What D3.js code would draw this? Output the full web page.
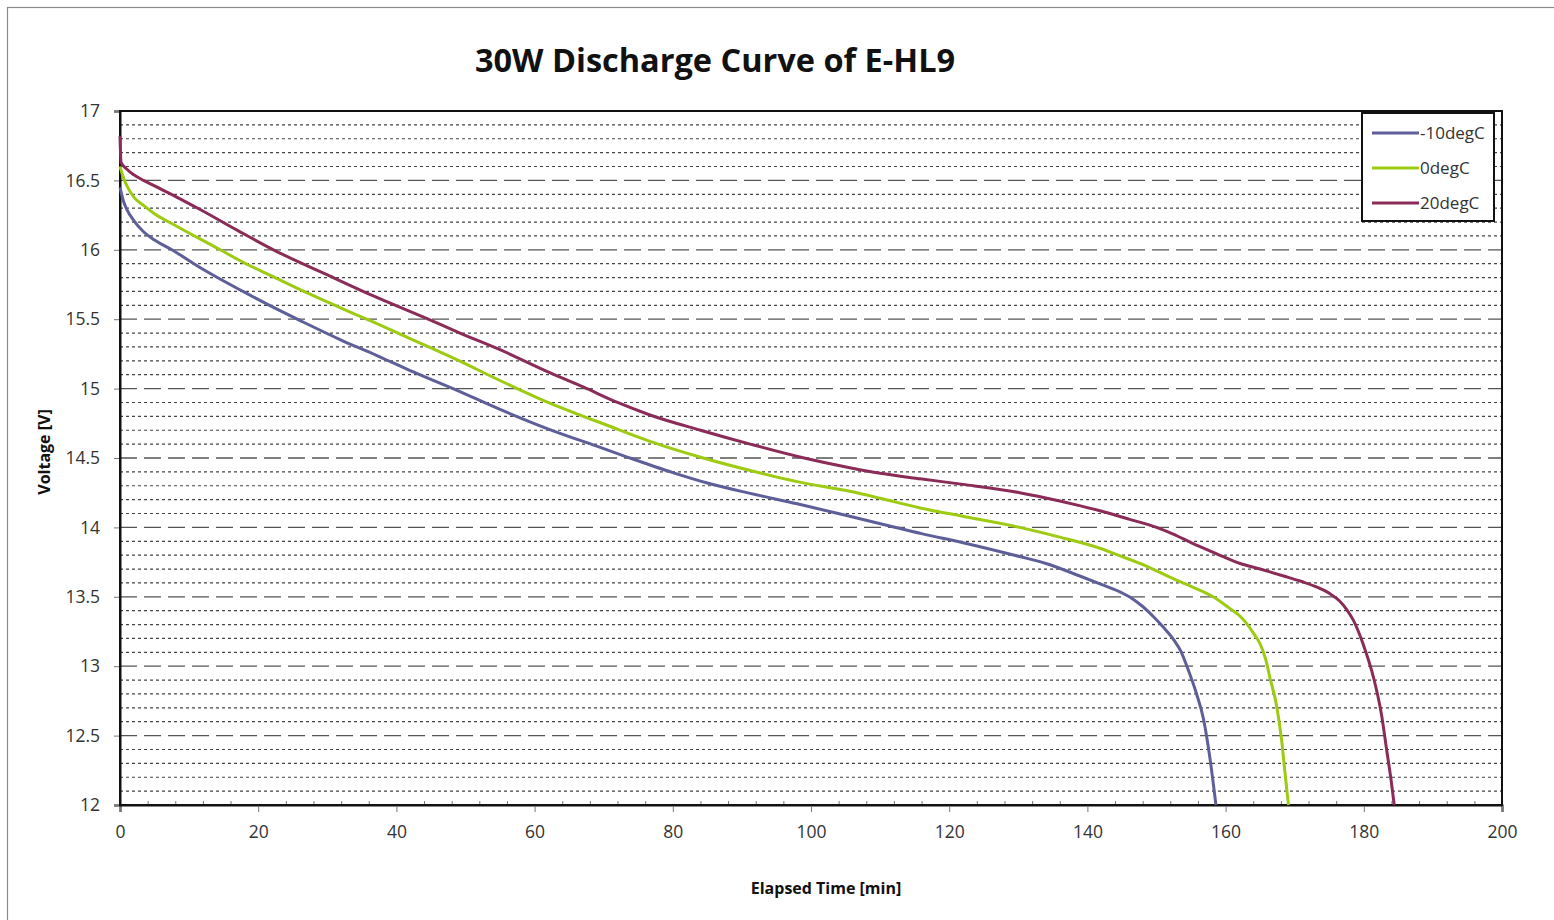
<!DOCTYPE html>
<html>
<head>
<meta charset="utf-8">
<script src="https://cdn.jsdelivr.net/npm/d3@7"></script>
<style>
  body { margin: 0; background: #fff; }
  svg text { font-family: "Open Sans", "DejaVu Sans", sans-serif; }
</style>
</head>
<body>
<svg width="1554" height="920"></svg>
<script>
const width = 1554
const height = 920

// series: [minutes, volts]
const seriesNames = ['-10degC', '0degC', '20degC']
const seriesColors = ['#5e5f99', '#9dcb12', '#8b2b58']

const minus10 = [
  [0, 16.45], [0.5, 16.35], [1, 16.29], [2, 16.21], [3.4, 16.13], [5, 16.07], [7.5, 16.0],
  [12, 15.86], [17.8, 15.70], [22, 15.59], [26.5, 15.48], [32, 15.35], [37.1, 15.24],
  [42, 15.13], [48.2, 15.0], [55, 14.85], [62.2, 14.705], [69, 14.585], [73.5, 14.505],
  [80, 14.395], [85, 14.32], [91.2, 14.245], [98, 14.17], [105.6, 14.08], [111.4, 14.01],
  [116, 13.955], [122, 13.89], [130.2, 13.79], [134, 13.74], [138.9, 13.65], [142, 13.59],
  [144.5, 13.54], [146.4, 13.49], [148, 13.43], [149.5, 13.36], [151, 13.28], [152.5, 13.19],
  [153.5, 13.11], [154.4, 13.0], [155.2, 12.89], [155.8, 12.80], [156.8, 12.62], [157.7, 12.35],
  [158.6, 12.0]
]

const zero = [
  [0, 16.6], [0.5, 16.52], [1, 16.46], [2, 16.38], [3.4, 16.32], [5, 16.26], [8.2, 16.17],
  [14.5, 16.0], [17.8, 15.91], [22, 15.81], [27.5, 15.68], [32, 15.58], [36.2, 15.49],
  [42, 15.36], [47.8, 15.23], [56.2, 15.03], [62.2, 14.895], [66, 14.82], [70, 14.745],
  [76.7, 14.62], [84.4, 14.5], [91.2, 14.41], [98, 14.33], [105.6, 14.26], [110, 14.21],
  [115.8, 14.14], [122, 14.08], [130.2, 14.0], [136, 13.93], [141.8, 13.85], [145, 13.79],
  [148.6, 13.72], [152, 13.64], [155, 13.575], [158.2, 13.50], [160.5, 13.42], [162.1, 13.36],
  [163, 13.31], [164, 13.24], [165, 13.16], [165.8, 13.05], [166.4, 12.92], [167.4, 12.71],
  [168.1, 12.47], [168.6, 12.23], [169.1, 12.0]
]

const twenty = [
  [0, 16.82], [0.15, 16.63], [1, 16.58], [2, 16.54], [3.4, 16.50], [5, 16.46], [8.2, 16.38],
  [11.6, 16.29], [17, 16.14], [22.2, 16.0], [30.4, 15.81], [37, 15.66], [44.6, 15.5],
  [49.2, 15.40], [55, 15.28], [62.2, 15.115], [67.1, 15.01], [72, 14.9], [76.7, 14.81],
  [84, 14.70], [91.2, 14.60], [99, 14.5], [105.6, 14.43], [110, 14.39], [115.8, 14.35],
  [122, 14.31], [130.2, 14.25], [136, 14.19], [139, 14.155], [141.8, 14.12], [146, 14.06],
  [150, 14.0], [152.5, 13.95], [155, 13.89], [158.7, 13.81], [162.1, 13.74], [165, 13.70],
  [168.4, 13.65], [171, 13.61], [173.2, 13.57], [175, 13.525], [176.5, 13.47], [177.5, 13.41],
  [178.5, 13.33], [179.9, 13.16], [181.4, 12.92], [182.6, 12.64], [183.3, 12.40], [184, 12.16],
  [184.4, 12.0]
]

const allSeries = [minus10, zero, twenty]

const xTicks = [0, 20, 40, 60, 80, 100, 120, 140, 160, 180, 200]
const yTicks = [12, 12.5, 13, 13.5, 14, 14.5, 15, 15.5, 16, 16.5, 17]

const margin = { left: 120, right: 52, top: 111, bottom: 115 }

const svg = d3.select('svg')

// outer chart frame
svg.append('rect')
  .attr('x', 7.5).attr('y', 7.5)
  .attr('width', width + 20).attr('height', height + 20)
  .attr('fill', 'none').attr('stroke', '#8a8a8a').attr('stroke-width', 1.2)

const x = d3.scaleLinear().domain([0, 200]).range([margin.left, width - margin.right])
const y = d3.scaleLinear().domain([12, 17]).range([height - margin.bottom, margin.top])

// minor grid, every 0.1 V
const minor = d3.range(121, 170).map(d => d / 10).filter(d => Math.round(d * 10) % 5 !== 0)
svg.append('g').selectAll('line')
  .data(minor)
  .enter().append('line')
  .attr('x1', x(0)).attr('x2', x(200))
  .attr('y1', d => y(d)).attr('y2', d => y(d))
  .attr('stroke', '#444').attr('stroke-width', 1.2)
  .attr('stroke-dasharray', '3,3')

// major grid, dashed
svg.append('g').selectAll('line')
  .data(yTicks.slice(1, -1))
  .enter().append('line')
  .attr('x1', x(0)).attr('x2', x(200))
  .attr('y1', d => y(d)).attr('y2', d => y(d))
  .attr('stroke', '#555').attr('stroke-width', 1.3)
  .attr('stroke-dasharray', '17,7')

// axes
const xAxis = svg.append('g')
  .attr('transform', `translate(0,${y(12)})`)
  .call(d3.axisBottom(x).tickValues(xTicks).tickSize(7).tickPadding(14))
const xMinor = svg.append('g')
  .attr('transform', `translate(0,${y(12)})`)
  .call(d3.axisTop(x).tickValues(d3.range(4, 200, 4).filter(d => d % 20 !== 0)).tickSize(4).tickFormat(''))
xMinor.select('.domain').remove()

const yAxis = svg.append('g')
  .attr('transform', `translate(${x(0)},0)`)
  .call(d3.axisLeft(y).tickValues(yTicks).tickSize(6).tickPadding(14).tickFormat(d3.format('')))

svg.selectAll('.tick line').attr('stroke', '#777')
svg.selectAll('.tick text')
  .attr('font-size', 17.5).attr('fill', '#333')
  .style('font-family', '"Open Sans", sans-serif')

// plot border
svg.append('rect')
  .attr('x', x(0)).attr('y', y(17))
  .attr('width', x(200) - x(0)).attr('height', y(12) - y(17))
  .attr('fill', 'none').attr('stroke', '#111').attr('stroke-width', 2)
svg.selectAll('.domain').attr('stroke', '#111').attr('stroke-width', 2)

// curves
let line = d3.line()
  .x(d => x(d[0]))
  .y(d => y(d[1]))
  .curve(d3.curveMonotoneX)

svg.append('g').selectAll('path')
  .data(allSeries)
  .enter().append('path')
  .attr('d', line)
  .attr('fill', 'none')
  .attr('stroke', (d, i) => seriesColors[i])
  .attr('stroke-width', 3)

// title and axis labels
svg.append('text')
  .attr('x', 715).attr('y', 72)
  .attr('text-anchor', 'middle')
  .attr('font-size', 32.5).attr('font-weight', 'bold').attr('fill', '#111')
  .text('30W Discharge Curve of E-HL9')

svg.append('text')
  .attr('x', 826).attr('y', 894)
  .attr('text-anchor', 'middle')
  .attr('font-size', 16).attr('font-weight', 'bold').attr('fill', '#111')
  .text('Elapsed Time [min]')

svg.append('text')
  .attr('transform', 'translate(50,452) rotate(-90)')
  .attr('text-anchor', 'middle')
  .attr('font-size', 16).attr('font-weight', 'bold').attr('fill', '#111')
  .text('Voltage [V]')

// legend
const legend = svg.append('g').attr('transform', 'translate(1362,113)')
legend.append('rect')
  .attr('width', 132).attr('height', 108)
  .attr('fill', '#fff').attr('stroke', '#111').attr('stroke-width', 2)

seriesNames.forEach(function(name, i) {
  let g = legend.append('g').attr('transform', `translate(0,${20 + i * 35})`)
  g.append('line')
    .attr('x1', 10).attr('x2', 57)
    .attr('stroke', seriesColors[i]).attr('stroke-width', 3)
  g.append('text')
    .attr('x', 58).attr('y', 6)
    .attr('font-size', 17).attr('fill', '#333')
    .text(name)
})
</script>
</body>
</html>
